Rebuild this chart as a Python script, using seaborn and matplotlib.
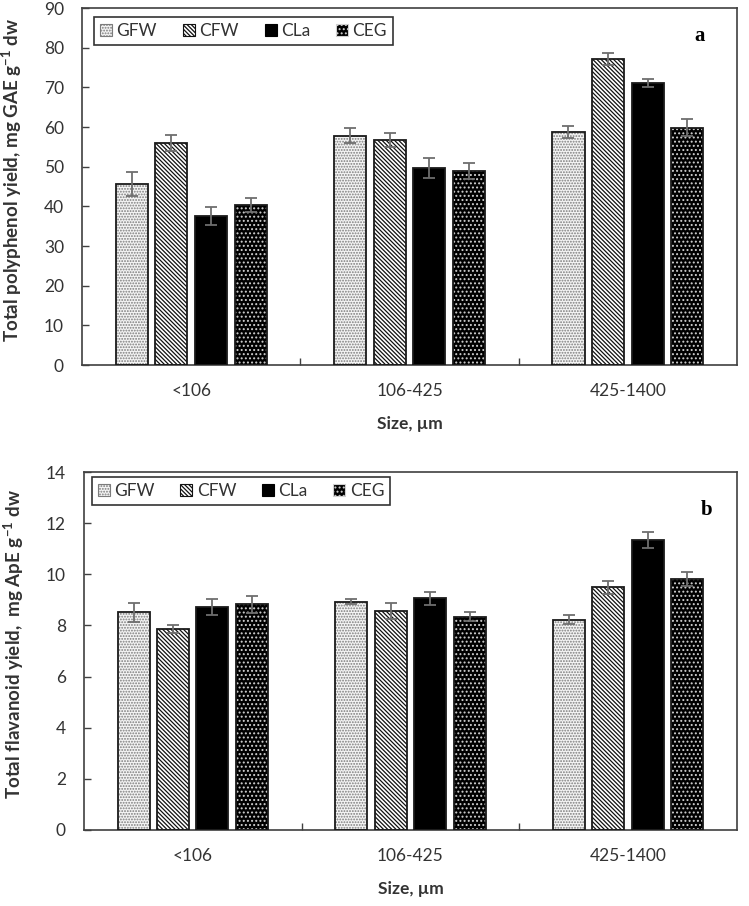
import pandas as pd
import matplotlib
matplotlib.use("Agg")
import matplotlib.pyplot as plt
from matplotlib.patches import Patch, Rectangle
import seaborn as sns

# Data
sizes = ["<106", "106-425", "425-1400"]
extracts = ["GFW", "CFW", "CLa", "CEG"]

# a) total polyphenol yield, mg GAE g-1 dw
tpc_gfw = [45.7, 57.8, 58.7]
tpc_cfw = [56.0, 56.7, 77.2]
tpc_cla = [37.6, 49.7, 71.2]
tpc_ceg = [40.4, 48.9, 59.9]
tpc_gfw_err = [3.0, 1.9, 1.5]
tpc_cfw_err = [2.0, 1.7, 1.5]
tpc_cla_err = [2.3, 2.5, 1.0]
tpc_ceg_err = [1.8, 2.0, 2.1]

# b) total flavanoid yield, mg ApE g-1 dw
tfc_gfw = [8.51, 8.93, 8.22]
tfc_cfw = [7.86, 8.56, 9.49]
tfc_cla = [8.73, 9.06, 11.34]
tfc_ceg = [8.83, 8.34, 9.81]
tfc_gfw_err = [0.37, 0.10, 0.17]
tfc_cfw_err = [0.15, 0.31, 0.26]
tfc_cla_err = [0.31, 0.26, 0.31]
tfc_ceg_err = [0.33, 0.17, 0.26]


def to_long(vals, errs):
    rows = []
    for ext, v, e in zip(extracts, vals, errs):
        for s, vv, ee in zip(sizes, v, e):
            rows.append({"size": s, "extract": ext, "value": vv, "err": ee})
    return pd.DataFrame(rows)


df_a = to_long([tpc_gfw, tpc_cfw, tpc_cla, tpc_ceg],
               [tpc_gfw_err, tpc_cfw_err, tpc_cla_err, tpc_ceg_err])
df_b = to_long([tfc_gfw, tfc_cfw, tfc_cla, tfc_ceg],
               [tfc_gfw_err, tfc_cfw_err, tfc_cla_err, tfc_ceg_err])

# bar styles: face colour, hatch, hatch colour
styles = {
    "GFW": ("#f4f4f4", "......", "#7c7c7c"),
    "CFW": ("white", "\\" * 8, "#111111"),
    "CLa": ("black", "", "black"),
    "CEG": ("black", "....", "#d0d0d0"),
}

plt.rcParams["font.family"] = ["Lato", "DejaVu Sans"]
plt.rcParams["mathtext.fontset"] = "custom"
plt.rcParams["mathtext.rm"] = "Lato"
plt.rcParams["mathtext.bf"] = "Lato:bold"
plt.rcParams["hatch.linewidth"] = 0.9
plt.rcParams["axes.edgecolor"] = "#404040"
plt.rcParams["axes.linewidth"] = 1.2

fig = plt.figure(figsize=(7.49, 9.06), dpi=100)
ax_a = fig.add_axes([0.1095, 0.597, 0.8745, 0.394])
ax_b = fig.add_axes([0.112, 0.084, 0.872, 0.395])

FS = 12.5


def draw_panel(ax, df, ymax, ystep, ylabel, letter, leg_x, leg_top, letter_xy):
    sns.barplot(data=df, x="size", y="value", hue="extract", order=sizes,
                hue_order=extracts, width=0.725, gap=0.19, errorbar=None,
                palette=["white"] * 4, legend=False, ax=ax)

    for ext, cont in zip(extracts, ax.containers):
        face, hatch, hcol = styles[ext]
        sub = df[df["extract"] == ext].set_index("size").loc[sizes]
        for bar, err in zip(cont, sub["err"]):
            bar.set_facecolor(face)
            bar.set_hatch(hatch)
            bar.set_edgecolor(hcol)
            bar.set_linewidth(0)
            ax.add_patch(Rectangle((bar.get_x(), bar.get_y()), bar.get_width(),
                                   bar.get_height(), fill=False,
                                   edgecolor="#1a1a1a", linewidth=1.3, zorder=3))
            ax.errorbar(bar.get_x() + bar.get_width() / 2, bar.get_height(),
                        yerr=err, fmt="none", ecolor="#6e6e6e", elinewidth=1.3,
                        capsize=4.5, capthick=1.3, zorder=4)

    ax.set_ylim(0, ymax)
    ax.set_yticks(range(0, ymax + 1, ystep))
    ax.set_xlim(-0.5, 2.5)
    ax.set_xticks([0.5, 1.5], minor=True)
    ax.tick_params(axis="x", which="major", length=0, pad=13,
                   labelsize=FS, labelcolor="#333333")
    ax.tick_params(axis="x", which="minor", direction="in", length=5,
                   width=1, color="#404040")
    ax.tick_params(axis="y", direction="in", length=5, width=1,
                   color="#404040", pad=13, labelsize=FS, labelcolor="#333333")

    ax.set_xlabel("Size, µm", fontsize=FS, fontweight="bold",
                  color="#333333", labelpad=12)
    ax.set_ylabel(ylabel, fontsize=13.5, fontweight="bold", color="#333333")
    ax.yaxis.set_label_coords(-0.088, 0.52)

    handles = []
    for ext in extracts:
        face, hatch, hcol = styles[ext]
        handles.append(Patch(facecolor=face, hatch=hatch, edgecolor=hcol,
                             linewidth=0.8, label=ext))
    leg = ax.legend(handles=handles, ncol=4, loc="upper left",
                    bbox_to_anchor=(leg_x, leg_top - 0.1, 0.457, 0.1),
                    mode="expand", borderaxespad=0, fontsize=FS,
                    handlelength=0.7, handleheight=0.7, handletextpad=0.25,
                    fancybox=False, edgecolor="#333333", framealpha=1,
                    borderpad=0.35)
    leg.get_frame().set_linewidth(1.2)
    for t in leg.get_texts():
        t.set_color("#333333")

    ax.text(letter_xy[0], letter_xy[1], letter, transform=ax.transAxes,
            fontfamily="Liberation Serif", fontweight="bold", fontsize=15,
            ha="center", va="center")


draw_panel(ax_a, df_a, 90, 10,
           r"Total polyphenol yield, mg GAE g$^{\mathbf{-1}}$ dw", "a",
           0.018, 0.975, (0.943, 0.922))
draw_panel(ax_b, df_b, 14, 2,
           r"Total flavanoid yield,  mg ApE g$^{\mathbf{-1}}$ dw", "b",
           0.012, 0.986, (0.954, 0.895))

fig.savefig("out.png", dpi=100)
